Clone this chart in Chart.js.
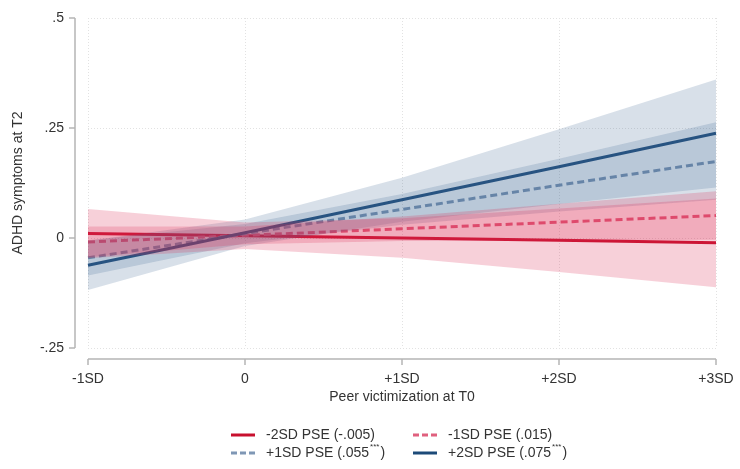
<!DOCTYPE html>
<html>
<head>
<meta charset="utf-8">
<script src="https://cdn.jsdelivr.net/npm/chart.js@4"></script>
<style>
  html, body { margin: 0; padding: 0; background: #fff; }
  #wrap { width: 740px; height: 469px; position: relative; }
</style>
</head>
<body>
<div id="wrap"><canvas id="chart"></canvas></div>
<script>
// valores (margins de Stata)
const xLabels = ['-1SD', '0', '+1SD', '+2SD', '+3SD'];
const yTickLabels = { '0.5': '.5', '0.25': '.25', '0': '0', '-0.25': '-.25' };

const m2sd    = [0.010, 0.005, 0.000, -0.005, -0.011];
const m2sdHi  = [0.066, 0.035, 0.045, 0.067, 0.090];
const m2sdLo  = [-0.046, -0.025, -0.045, -0.077, -0.112];

const m1sd    = [-0.009, 0.006, 0.021, 0.036, 0.051];
const m1sdHi  = [0.026, 0.026, 0.049, 0.078, 0.106];
const m1sdLo  = [-0.044, -0.014, -0.007, -0.006, -0.004];

const p1sd    = [-0.045, 0.010, 0.065, 0.120, 0.174];
const p1sdHi  = [-0.005, 0.032, 0.100, 0.180, 0.263];
const p1sdLo  = [-0.085, -0.012, 0.030, 0.060, 0.087];

const p2sd    = [-0.062, 0.012, 0.087, 0.162, 0.238];
const p2sdHi  = [-0.006, 0.042, 0.137, 0.247, 0.360];
const p2sdLo  = [-0.118, -0.018, 0.037, 0.077, 0.115];

const legendText  = ['-2SD PSE (-.005)', '-1SD PSE (.015)', '+1SD PSE (.055', '+2SD PSE (.075'];
const legendStars = ['', '', '***', '***'];
const legendClose = ['', '', ')', ')'];

const RED = '#c8102e', PINK = '#e0607e', GREYBLUE = '#7f97b5', NAVY = '#1c4a78';
const RED_BAND = 'rgba(220,40,80,0.22)';
const BLUE_BAND = 'rgba(60,100,145,0.20)';
const FONT = '"Liberation Sans", Arial, sans-serif';

function band(hi, lo, color) {
  return [
    { data: hi, fill: '+1', backgroundColor: color, borderWidth: 0, pointRadius: 0 },
    { data: lo, fill: false, borderWidth: 0, pointRadius: 0 }
  ];
}
function line(data, color, dash) {
  return { data, borderColor: color, borderWidth: 3, borderDash: dash || [], fill: false, pointRadius: 0, tension: 0 };
}

const datasets = [
  ...band(m2sdHi, m2sdLo, RED_BAND),
  ...band(m1sdHi, m1sdLo, RED_BAND),
  ...band(p1sdHi, p1sdLo, BLUE_BAND),
  ...band(p2sdHi, p2sdLo, BLUE_BAND),
  line(p2sd, NAVY),
  line(p1sd, GREYBLUE, [7, 4]),
  line(m1sd, PINK, [7, 4]),
  line(m2sd, RED)
];
const legendStyles = [
  { color: RED, dash: [] },
  { color: PINK, dash: [6, 3] },
  { color: GREYBLUE, dash: [6, 3] },
  { color: NAVY, dash: [] }
];

// ejes desplazados estilo Stata + leyenda con superindices
const stataAxes = {
  id: 'stataAxes',
  afterDraw(chart) {
    const { ctx, chartArea: a, scales: { x, y } } = chart;
    ctx.save();
    ctx.strokeStyle = '#b5b5b5';
    ctx.lineWidth = 1.5;
    const ax = a.left - 13, ay = a.bottom + 11;
    ctx.beginPath();
    ctx.moveTo(ax, y.getPixelForValue(0.5));
    ctx.lineTo(ax, y.getPixelForValue(-0.25));
    [0.5, 0.25, 0, -0.25].forEach(v => {
      const py = y.getPixelForValue(v);
      ctx.moveTo(ax - 6, py); ctx.lineTo(ax, py);
    });
    ctx.moveTo(x.getPixelForValue(0), ay);
    ctx.lineTo(x.getPixelForValue(xLabels.length - 1), ay);
    xLabels.forEach((l, i) => {
      const px = x.getPixelForValue(i);
      ctx.moveTo(px, ay); ctx.lineTo(px, ay + 6);
    });
    ctx.stroke();

    // leyenda
    const cols = [231, 413], rows = [435, 453];
    legendText.forEach((t, i) => {
      const lx = cols[i % 2], ly = rows[Math.floor(i / 2)];
      const st = legendStyles[i];
      ctx.strokeStyle = st.color;
      ctx.lineWidth = 3;
      ctx.setLineDash(st.dash);
      ctx.beginPath();
      ctx.moveTo(lx, ly); ctx.lineTo(lx + 24, ly);
      ctx.stroke();
      ctx.setLineDash([]);
      ctx.fillStyle = '#333';
      ctx.font = '14px ' + FONT;
      ctx.textBaseline = 'middle';
      ctx.textAlign = 'left';
      let tx = lx + 35;
      ctx.fillText(t, tx, ly);
      tx += ctx.measureText(t).width;
      if (legendStars[i]) {
        ctx.font = '8px ' + FONT;
        ctx.fillText(legendStars[i], tx + 1, ly - 6);
        tx += ctx.measureText(legendStars[i]).width + 2;
        ctx.font = '14px ' + FONT;
        ctx.fillText(legendClose[i], tx, ly);
      }
    });
    ctx.restore();
  }
};

new Chart(document.getElementById('chart'), {
  type: 'line',
  data: { labels: xLabels, datasets },
  options: {
    responsive: true,
    maintainAspectRatio: false,
    animation: false,
    layout: { padding: { top: 18, right: 24, bottom: 61, left: 0 } },
    plugins: { legend: { display: false }, tooltip: { enabled: false } },
    scales: {
      x: {
        offset: false,
        afterFit(scale) {
          scale.height = 60;
          scale.paddingLeft = 0; scale.paddingRight = 0;
        },
        grid: { color: '#e2e2e2', drawTicks: false },
        border: { display: false, dash: [1, 2] },
        ticks: { padding: 23, color: '#333', font: { size: 14, family: FONT }, maxRotation: 0 },
        title: { display: true, text: 'Peer victimization at T0', color: '#333',
                 font: { size: 14, family: FONT }, padding: { top: 0, bottom: 2 } }
      },
      y: {
        min: -0.25, max: 0.5,
        afterFit(scale) {
          scale.width = 88;
          scale.paddingTop = 0; scale.paddingBottom = 0;
        },
        grid: { color: '#e2e2e2', drawTicks: false },
        border: { display: false, dash: [1, 2] },
        ticks: {
          stepSize: 0.25, padding: 24, color: '#333', font: { size: 14, family: FONT },
          callback: v => yTickLabels[String(v)] ?? ''
        },
        title: { display: true, text: 'ADHD symptoms at T2', color: '#333',
                 font: { size: 14, family: FONT }, padding: { top: 10, bottom: 0 } }
      }
    }
  },
  plugins: [stataAxes]
});
</script>
</body>
</html>
